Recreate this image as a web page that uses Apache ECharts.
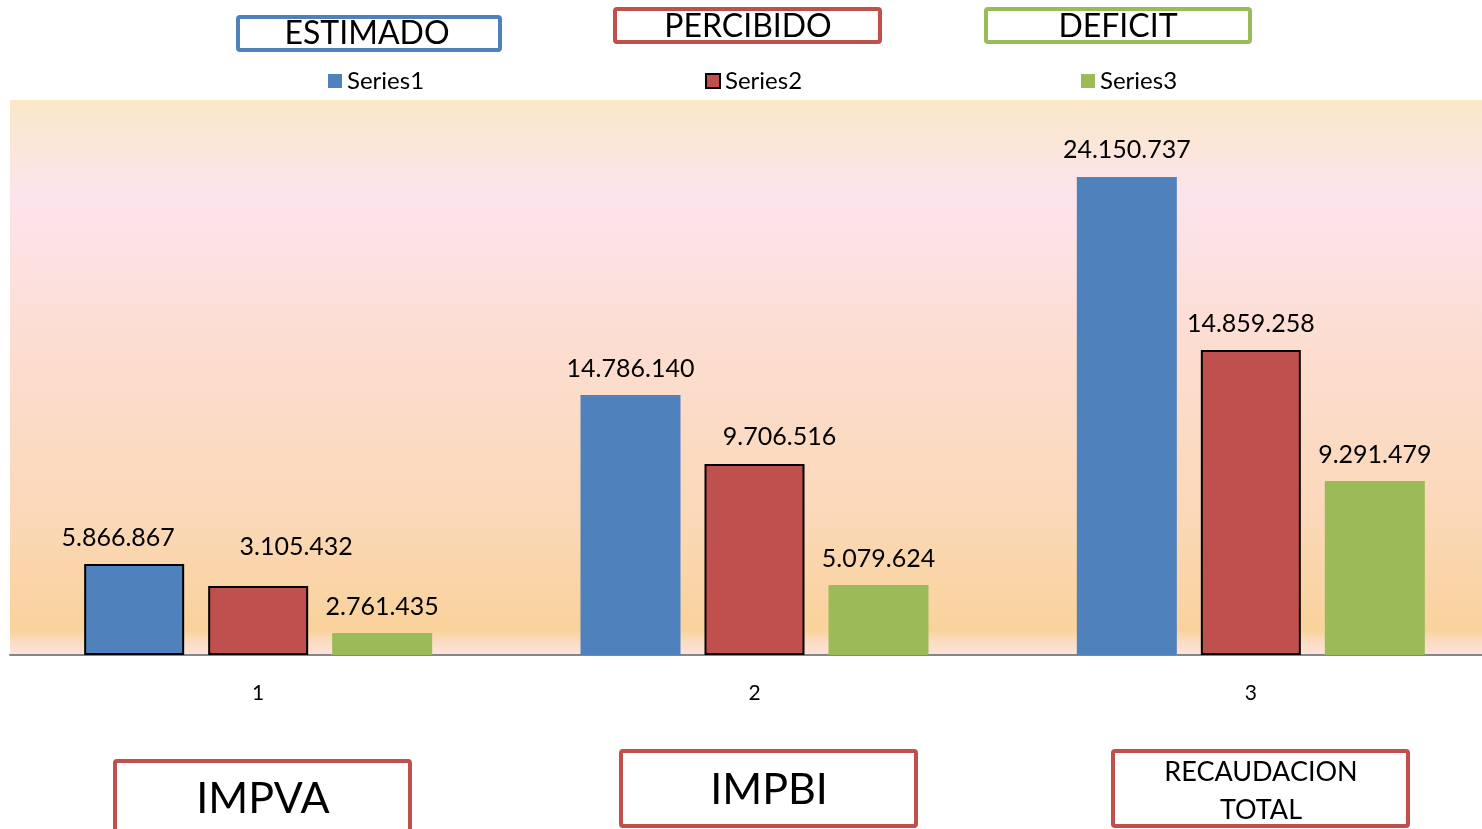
<!DOCTYPE html>
<html>
<head>
<meta charset="utf-8">
<script src="https://cdn.jsdelivr.net/npm/echarts@6/dist/echarts.min.js"></script>
<style>
html,body{margin:0;padding:0;background:#fff;overflow:hidden;}
#c{width:1500px;height:829px;}
</style>
</head>
<body>
<div id="c"></div>
<script>
// Categories on the x axis
var categories = ['1', '2', '3'];
// Bar heights (same units as the y axis)
var series1 = [4590000, 13120000, 24120000];
var series2 = [3480000, 9640000, 15390000];
var series3 = [1110000, 3530000, 8780000];
// Data label texts as printed in the chart
var labels1 = ['5.866.867', '14.786.140', '24.150.737'];
var labels2 = ['3.105.432', '9.706.516', '14.859.258'];
var labels3 = ['2.761.435', '5.079.624', '9.291.479'];
var seriesNames = ['Series1', 'Series2', 'Series3'];
var headerTitles = ['ESTIMADO', 'PERCIBIDO', 'DEFICIT'];
var footerTitles = ['IMPVA', 'IMPBI', 'RECAUDACION\nTOTAL'];

var FONT = 'Lato';
var BLUE = '#4F81BD', RED = '#C0504D', GREEN = '#9BBB59';

function mk(vals, labs, offsets, borders) {
  return vals.map(function (v, i) {
    var d = { value: v, label: { formatter: labs[i] } };
    if (offsets[i]) d.label.offset = offsets[i];
    if (borders) d.itemStyle = borders[i];
    return d;
  });
}

var chart = echarts.init(document.getElementById('c'));
var labelBase = { show: true, position: 'top', distance: 14, fontFamily: FONT, fontSize: 25, color: '#000' };

chart.setOption({
  animation: false,
  backgroundColor: '#fff',
  grid: {
    left: 10, right: 1, top: 100, height: 555, containLabel: false,
    show: true, borderWidth: 0,
    backgroundColor: new echarts.graphic.LinearGradient(0, 0, 0, 1, [
      { offset: 0, color: '#FAE8C8' },
      { offset: 0.17, color: '#FCE4EC' },
      { offset: 0.45, color: '#FCDDD0' },
      { offset: 0.75, color: '#FBD8B8' },
      { offset: 0.955, color: '#F9D29B' },
      { offset: 0.975, color: '#FBDCC0' },
      { offset: 1, color: '#FDE3DC' }
    ])
  },
  legend: [0, 1, 2].map(function (k) {
    var lefts = [328, 705, 1081];
    var d = { name: seriesNames[k] };
    if (k === 1) d.itemStyle = { color: RED, borderColor: '#000', borderWidth: 2 };
    return {
      data: [d], left: lefts[k], top: 69, padding: 0, itemWidth: 14, itemHeight: 14, itemGap: 4,
      icon: 'rect', selectedMode: false,
      textStyle: { fontFamily: FONT, fontSize: 24, color: '#000', padding: [0, 0, 0, 0] }
    };
  }),
  xAxis: {
    type: 'category', data: categories,
    axisLine: { show: true, lineStyle: { color: '#868686', width: 2 } },
    axisTick: { show: false },
    axisLabel: { margin: 28, fontFamily: FONT, fontSize: 21, color: '#000' },
    splitLine: { show: false }
  },
  yAxis: { type: 'value', min: 0, max: 28000000, show: false, splitLine: { show: false } },
  series: [
    {
      name: seriesNames[0], type: 'bar', barWidth: 100, barGap: '24%',
      itemStyle: { color: BLUE },
      label: labelBase,
      data: mk(series1, labels1, [[-16, 0], null, null],
        [{ borderColor: '#000', borderWidth: 2 }, {}, {}])
    },
    {
      name: seriesNames[1], type: 'bar', barWidth: 100, barGap: '24%',
      itemStyle: { color: RED, borderColor: '#000', borderWidth: 2 },
      label: labelBase,
      data: mk(series2, labels2, [[38, -13], [25, 0], null])
    },
    {
      name: seriesNames[2], type: 'bar', barWidth: 100, barGap: '24%',
      itemStyle: { color: GREEN },
      label: labelBase,
      data: mk(series3, labels3, [null, null, null])
    }
  ],
  graphic: [
    // header boxes
    { type: 'rect', shape: { x: 238, y: 17, width: 262, height: 33, r: 2 }, style: { fill: '#fff', stroke: BLUE, lineWidth: 4 } },
    { type: 'text', x: 367, y: 34, style: { text: headerTitles[0], font: '32px ' + FONT, fill: '#000', textAlign: 'center', textVerticalAlign: 'middle' } },
    { type: 'rect', shape: { x: 615, y: 9, width: 265, height: 33, r: 2 }, style: { fill: '#fff', stroke: RED, lineWidth: 4 } },
    { type: 'text', x: 748, y: 27, style: { text: headerTitles[1], font: '32px ' + FONT, fill: '#000', textAlign: 'center', textVerticalAlign: 'middle' } },
    { type: 'rect', shape: { x: 986, y: 9, width: 264, height: 33, r: 2 }, style: { fill: '#fff', stroke: GREEN, lineWidth: 4 } },
    { type: 'text', x: 1118, y: 27, style: { text: headerTitles[2], font: '32px ' + FONT, fill: '#000', textAlign: 'center', textVerticalAlign: 'middle' } },
    // footer boxes
    { type: 'rect', shape: { x: 115, y: 761, width: 295, height: 100, r: 2 }, style: { fill: '#fff', stroke: RED, lineWidth: 4 } },
    { type: 'text', x: 263, y: 799, style: { text: footerTitles[0], font: '43px ' + FONT, fill: '#000', textAlign: 'center', textVerticalAlign: 'middle' } },
    { type: 'rect', shape: { x: 621, y: 751, width: 295, height: 75, r: 2 }, style: { fill: '#fff', stroke: RED, lineWidth: 4 } },
    { type: 'text', x: 769, y: 790, style: { text: footerTitles[1], font: '43px ' + FONT, fill: '#000', textAlign: 'center', textVerticalAlign: 'middle' } },
    { type: 'rect', shape: { x: 1113, y: 751, width: 295, height: 75, r: 2 }, style: { fill: '#fff', stroke: RED, lineWidth: 4 } },
    { type: 'text', x: 1261, y: 791, style: { text: footerTitles[2], font: '27px ' + FONT, lineHeight: 38, fill: '#000', textAlign: 'center', textVerticalAlign: 'middle' } }
  ]
});
</script>
</body>
</html>
